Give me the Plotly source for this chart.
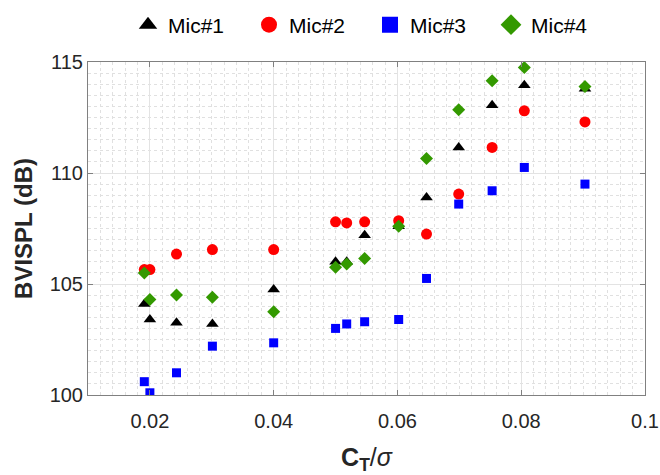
import plotly.graph_objects as go

ct_sigma = [0.0191, 0.0200, 0.0243, 0.0301, 0.0400, 0.0500, 0.0518, 0.0547,
            0.0602, 0.0647, 0.0699, 0.0753, 0.0805, 0.0903]
mic1 = [104.1, 103.4, 103.25, 103.2, 104.75, 106.0, 106.0, 107.2,
        107.6, 108.9, 111.15, 113.05, 113.95, 113.8]
mic2 = [105.65, 105.65, 106.35, 106.55, 106.55, 107.8, 107.75, 107.8,
        107.85, 107.25, 109.05, 111.15, 112.8, 112.3]
mic3 = [100.6, 100.1, 101.0, 102.2, 102.35, 103.0, 103.2, 103.3,
        103.4, 105.25, 108.6, 109.2, 110.25, 109.5]
mic4 = [105.5, 104.3, 104.5, 104.4, 103.75, 105.75, 105.9, 106.15,
        107.6, 110.65, 112.85, 114.15, 114.75, 113.9]

names = ["Mic#1", "Mic#2", "Mic#3", "Mic#4"]
series = [mic1, mic2, mic3, mic4]
colors = ["#000000", "#ff0000", "#0000ff", "#339900"]
symbols = ["triangle-up", "circle", "square", "diamond"]
sizes = [11, 11, 9, 10]

x_ticks = [0.02, 0.04, 0.06, 0.08, 0.1]
x_ticktext = ["0.02", "0.04", "0.06", "0.08", "0.1"]
y_ticks = [100, 105, 110, 115]

FONT = "'Liberation Sans', Arial, Helvetica, sans-serif"

fig = go.Figure()
for nm, ys, c, s, sz in zip(names, series, colors, symbols, sizes):
    fig.add_trace(go.Scatter(x=ct_sigma, y=ys, mode="markers", name=nm,
                             showlegend=False,
                             marker=dict(color=c, symbol=s, size=sz, line=dict(width=0))))
for nm, c, s in zip(names, colors, symbols):
    fig.add_trace(go.Scatter(x=[None], y=[None], mode="markers", name=nm,
                             marker=dict(color=c, symbol=s, size=18, line=dict(width=0))))

axis_common = dict(
    showline=True, linecolor="#808080", linewidth=1, mirror="ticks",
    ticks="inside", ticklen=5, tickcolor="#808080",
    showgrid=True, gridcolor="#e3e3e3", gridwidth=1,
    zeroline=False, automargin=False,
    tickfont=dict(family=FONT, size=20, color="#262626"),
)

fig.update_layout(
    width=660, height=475,
    margin=dict(l=88, r=15, t=62, b=80),
    paper_bgcolor="white", plot_bgcolor="white",
    font=dict(family=FONT, color="#000000"),
    legend=dict(orientation="h", xref="container", yref="container",
                x=128 / 660, xanchor="left", y=1 - 25 / 475, yanchor="middle",
                font=dict(family=FONT, size=21, color="#000000"), bgcolor="rgba(0,0,0,0)",
                entrywidth=76, entrywidthmode="pixels"),
    xaxis=dict(range=[0.01, 0.1], tickvals=x_ticks, ticktext=x_ticktext,
               ticklabelstandoff=8,
               minor=dict(dtick=0.002, tick0=0, showgrid=True, griddash="dot",
                          gridcolor="#e0e0e0", ticks=""),
               title=dict(text="<b>C<sub>T</sub></b>/<i>σ</i>",
                          font=dict(family=FONT, size=25, color="#262626"),
                          standoff=25),
               **axis_common),
    yaxis=dict(range=[100, 115], tickvals=y_ticks,
               minor=dict(dtick=0.5, tick0=100, showgrid=True, griddash="dot",
                          gridcolor="#e0e0e0", ticks=""),
               title=dict(text="<b>BVISPL (dB)</b>",
                          font=dict(family=FONT, size=24, color="#262626"),
                          standoff=10),
               **axis_common),
)

fig.write_html("out.html")
